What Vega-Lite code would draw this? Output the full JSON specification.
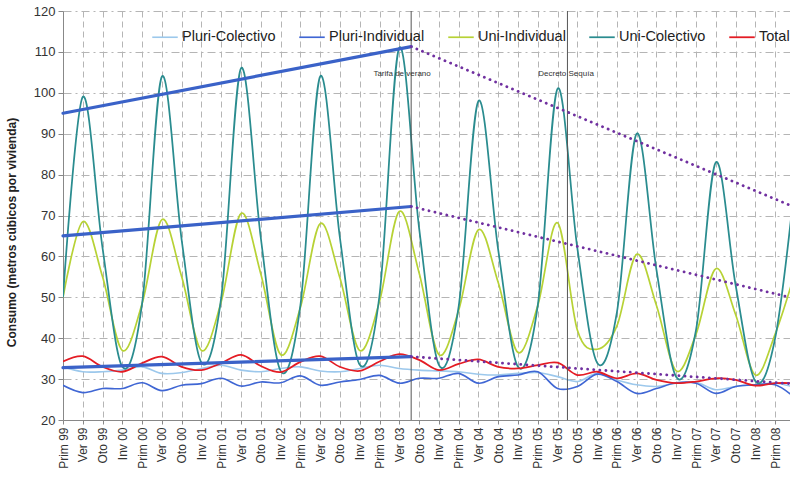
{
  "$schema": "https://vega.github.io/schema/vega-lite/v6.json",
  "width": 727,
  "height": 409,
  "autosize": {"type": "none"},
  "padding": {"left": 63, "top": 11, "right": 0, "bottom": 63},
  "background": "white",
  "config": {"view": {"stroke": null}, "font": "Liberation Sans"},
  "datasets": {
    "series": [
      {"i":0,"Pluri-Colectivo":33,"Pluri-Individual":28.5,"Uni-Individual":50,"Uni-Colectivo":50,"Total":34.3},
      {"i":1,"Pluri-Colectivo":31.8,"Pluri-Individual":26.7,"Uni-Individual":68.5,"Uni-Colectivo":99,"Total":35.6},
      {"i":2,"Pluri-Colectivo":31.8,"Pluri-Individual":27.7,"Uni-Individual":55,"Uni-Colectivo":62,"Total":33},
      {"i":3,"Pluri-Colectivo":32.2,"Pluri-Individual":27.7,"Uni-Individual":37,"Uni-Colectivo":33,"Total":31.8},
      {"i":4,"Pluri-Colectivo":33,"Pluri-Individual":29.1,"Uni-Individual":48.5,"Uni-Colectivo":48.5,"Total":33.9},
      {"i":5,"Pluri-Colectivo":31.4,"Pluri-Individual":27.2,"Uni-Individual":69,"Uni-Colectivo":104,"Total":35.5},
      {"i":6,"Pluri-Colectivo":31.6,"Pluri-Individual":28.5,"Uni-Individual":55,"Uni-Colectivo":64,"Total":33},
      {"i":7,"Pluri-Colectivo":32.6,"Pluri-Individual":28.9,"Uni-Individual":37,"Uni-Colectivo":34,"Total":32.2},
      {"i":8,"Pluri-Colectivo":33.4,"Pluri-Individual":30.2,"Uni-Individual":49,"Uni-Colectivo":50,"Total":33.9},
      {"i":9,"Pluri-Colectivo":32.2,"Pluri-Individual":28.3,"Uni-Individual":70.5,"Uni-Colectivo":106,"Total":35.9},
      {"i":10,"Pluri-Colectivo":31.8,"Pluri-Individual":29.3,"Uni-Individual":55.7,"Uni-Colectivo":64.5,"Total":33.2},
      {"i":11,"Pluri-Colectivo":32.6,"Pluri-Individual":29.1,"Uni-Individual":36,"Uni-Colectivo":32,"Total":31.7},
      {"i":12,"Pluri-Colectivo":33,"Pluri-Individual":30.8,"Uni-Individual":47.5,"Uni-Colectivo":48,"Total":34.2},
      {"i":13,"Pluri-Colectivo":32,"Pluri-Individual":28.5,"Uni-Individual":68,"Uni-Colectivo":104,"Total":35.6},
      {"i":14,"Pluri-Colectivo":31.8,"Pluri-Individual":29.3,"Uni-Individual":54.7,"Uni-Colectivo":64.5,"Total":33},
      {"i":15,"Pluri-Colectivo":32.6,"Pluri-Individual":29.9,"Uni-Individual":37,"Uni-Colectivo":33.5,"Total":32},
      {"i":16,"Pluri-Colectivo":33.4,"Pluri-Individual":30.9,"Uni-Individual":49,"Uni-Colectivo":50.5,"Total":34.3},
      {"i":17,"Pluri-Colectivo":32.6,"Pluri-Individual":29,"Uni-Individual":71,"Uni-Colectivo":111,"Total":36.1},
      {"i":18,"Pluri-Colectivo":32.2,"Pluri-Individual":30.2,"Uni-Individual":56,"Uni-Colectivo":67,"Total":34.7},
      {"i":19,"Pluri-Colectivo":32,"Pluri-Individual":30.2,"Uni-Individual":36,"Uni-Colectivo":33.5,"Total":32.2},
      {"i":20,"Pluri-Colectivo":31.8,"Pluri-Individual":31.4,"Uni-Individual":46.8,"Uni-Colectivo":47.7,"Total":33.7},
      {"i":21,"Pluri-Colectivo":31.2,"Pluri-Individual":29,"Uni-Individual":66.5,"Uni-Colectivo":98,"Total":34.8},
      {"i":22,"Pluri-Colectivo":31,"Pluri-Individual":30.6,"Uni-Individual":53.6,"Uni-Colectivo":61.6,"Total":33},
      {"i":23,"Pluri-Colectivo":31.4,"Pluri-Individual":31,"Uni-Individual":36.5,"Uni-Colectivo":33,"Total":32.6},
      {"i":24,"Pluri-Colectivo":31.6,"Pluri-Individual":31.8,"Uni-Individual":48,"Uni-Colectivo":48,"Total":33.4},
      {"i":25,"Pluri-Colectivo":30.6,"Pluri-Individual":27.7,"Uni-Individual":68.2,"Uni-Colectivo":101,"Total":34},
      {"i":26,"Pluri-Colectivo":29.4,"Pluri-Individual":28.2,"Uni-Individual":42,"Uni-Colectivo":62,"Total":31},
      {"i":27,"Pluri-Colectivo":31.4,"Pluri-Individual":31.2,"Uni-Individual":37.3,"Uni-Colectivo":34,"Total":31.8},
      {"i":28,"Pluri-Colectivo":29.8,"Pluri-Individual":29.4,"Uni-Individual":43,"Uni-Colectivo":46.3,"Total":30.2},
      {"i":29,"Pluri-Colectivo":28.6,"Pluri-Individual":26.5,"Uni-Individual":60.5,"Uni-Colectivo":90,"Total":31.4},
      {"i":30,"Pluri-Colectivo":28.2,"Pluri-Individual":27.7,"Uni-Individual":48,"Uni-Colectivo":56.7,"Total":29.8},
      {"i":31,"Pluri-Colectivo":29,"Pluri-Individual":29.1,"Uni-Individual":32,"Uni-Colectivo":30.5,"Total":29},
      {"i":32,"Pluri-Colectivo":29.2,"Pluri-Individual":29,"Uni-Individual":41,"Uni-Colectivo":42,"Total":29.4},
      {"i":33,"Pluri-Colectivo":27.4,"Pluri-Individual":26.5,"Uni-Individual":57,"Uni-Colectivo":83,"Total":30.2},
      {"i":34,"Pluri-Colectivo":28.2,"Pluri-Individual":28.2,"Uni-Individual":45.8,"Uni-Colectivo":53,"Total":29.8},
      {"i":35,"Pluri-Colectivo":28.6,"Pluri-Individual":28.6,"Uni-Individual":31,"Uni-Colectivo":29.5,"Total":28.4},
      {"i":36,"Pluri-Colectivo":29,"Pluri-Individual":28.6,"Uni-Individual":41,"Uni-Colectivo":40,"Total":29},
      {"i":37,"Pluri-Colectivo":28,"Pluri-Individual":25.5,"Uni-Individual":56,"Uni-Colectivo":78,"Total":29}
    ],
    "trends": [
      {"tipo":"antes","x1":0,"y1":95,"x2":17.6,"y2":111.3},
      {"tipo":"antes","x1":0,"y1":65,"x2":17.6,"y2":72.2},
      {"tipo":"antes","x1":0,"y1":32.8,"x2":17.6,"y2":35.5},
      {"tipo":"despues","x1":17.6,"y1":111.3,"x2":36.75,"y2":72.5},
      {"tipo":"despues","x1":17.6,"y1":72.2,"x2":36.75,"y2":50},
      {"tipo":"despues","x1":17.6,"y1":35.5,"x2":36.75,"y2":28.9}
    ],
    "eventos": [
      {"x":17.6,"tx":17.14,"ty":104.6,"texto":"Tarifa de verano"},
      {"x":25.5,"tx":25.43,"ty":104.6,"texto":"Decreto Sequía"}
    ]
  },
  "layer": [
    {
      "data": {"name": "series"},
      "transform": [{"fold": ["Pluri-Colectivo","Pluri-Individual","Uni-Individual","Uni-Colectivo","Total"], "as": ["serie","valor"]}],
      "mark": {"type": "line", "interpolate": "cardinal", "clip": true},
      "encoding": {
        "x": {"field": "i", "type": "quantitative", "title": null,
              "scale": {"domain": [0, 36.75], "nice": false, "zero": false},
              "axis": {"values": [0,1,2,3,4,5,6,7,8,9,10,11,12,13,14,15,16,17,18,19,20,21,22,23,24,25,26,27,28,29,30,31,32,33,34,35,36],
                       "tickCount": 40,
                       "labelExpr": "['Prim','Ver','Oto','Inv'][datum.value % 4] + ' ' + ((99 + floor((datum.value + 1) / 4)) % 100 < 10 ? '0' : '') + ((99 + floor((datum.value + 1) / 4)) % 100)",
                       "labelAngle": -90, "labelAlign": "right", "labelBaseline": "middle", "labelPadding": 3,
                       "labelFontSize": 12, "labelColor": "#333", "labelFont": "Liberation Sans",
                       "tickSize": 4, "tickColor": "#888", "domainColor": "#888",
                       "grid": true, "gridColor": "#b5b5b5", "gridDash": [6,4], "labelOverlap": false, "labelBound": false}},
        "y": {"field": "valor", "type": "quantitative", "title": "Consumo (metros cúbicos por vivienda)",
              "scale": {"domain": [20, 120], "nice": false, "zero": false},
              "axis": {"values": [20,30,40,50,60,70,80,90,100,110,120], "tickCount": 12, "labelFontSize": 13, "labelColor": "#333", "labelFont": "Liberation Sans",
                       "tickSize": 5, "tickColor": "#888", "domainColor": "#888", "labelPadding": 3,
                       "grid": true, "gridColor": "#b5b5b5", "gridDash": [8,4,2,4],
                       "titleFontSize": 12, "titleFontWeight": "bold", "titleColor": "#222", "titleFont": "Liberation Sans",
                       "titleX": -45, "titleY": 221}},
        "color": {"field": "serie", "type": "nominal",
                  "scale": {"domain": ["Pluri-Colectivo","Pluri-Individual","Uni-Individual","Uni-Colectivo","Total"],
                            "range": ["#9cc8ec","#3f66d4","#b7d235","#2a8c8f","#e41c24"]},
                  "legend": {"orient": "none", "legendX": 88, "legendY": 12, "direction": "horizontal", "title": null,
                             "symbolType": "stroke", "symbolSize": 650, "symbolStrokeWidth": 2.2, "labelFontSize": 14.5,
                             "labelFont": "Liberation Sans", "labelColor": "#222", "labelOffset": 3, "columnPadding": 19, "labelLimit": 200}},
        "strokeWidth": {"field": "serie", "type": "nominal",
                        "scale": {"domain": ["Pluri-Colectivo","Pluri-Individual","Uni-Individual","Uni-Colectivo","Total"],
                                  "range": [1.6, 1.8, 2, 1.8, 2.6]}, "legend": null}
      }
    },
    {
      "data": {"name": "eventos"},
      "mark": {"type": "rule", "color": "#555", "strokeWidth": 1},
      "encoding": {"x": {"field": "x", "type": "quantitative", "title": null}}
    },
    {
      "data": {"name": "eventos"},
      "mark": {"type": "text", "fontSize": 8, "color": "#333", "font": "Liberation Sans", "align": "center"},
      "encoding": {
        "x": {"field": "tx", "type": "quantitative", "title": null},
        "y": {"field": "ty", "type": "quantitative", "title": "Consumo (metros cúbicos por vivienda)"},
        "text": {"field": "texto"}
      }
    },
    {
      "data": {"name": "trends"},
      "transform": [{"filter": "datum.tipo == 'antes'"}],
      "mark": {"type": "rule", "color": "#3a62c8", "strokeWidth": 3.2, "strokeCap": "round"},
      "encoding": {
        "x": {"field": "x1", "type": "quantitative", "title": null},
        "y": {"field": "y1", "type": "quantitative", "title": "Consumo (metros cúbicos por vivienda)"},
        "x2": {"field": "x2"},
        "y2": {"field": "y2"}
      }
    },
    {
      "data": {"name": "trends"},
      "transform": [{"filter": "datum.tipo == 'despues'"}],
      "mark": {"type": "rule", "color": "#7030a0", "strokeWidth": 2.8, "strokeDash": [0.1, 6], "strokeCap": "round", "clip": true},
      "encoding": {
        "x": {"field": "x1", "type": "quantitative", "title": null},
        "y": {"field": "y1", "type": "quantitative", "title": "Consumo (metros cúbicos por vivienda)"},
        "x2": {"field": "x2"},
        "y2": {"field": "y2"}
      }
    }
  ]
}
